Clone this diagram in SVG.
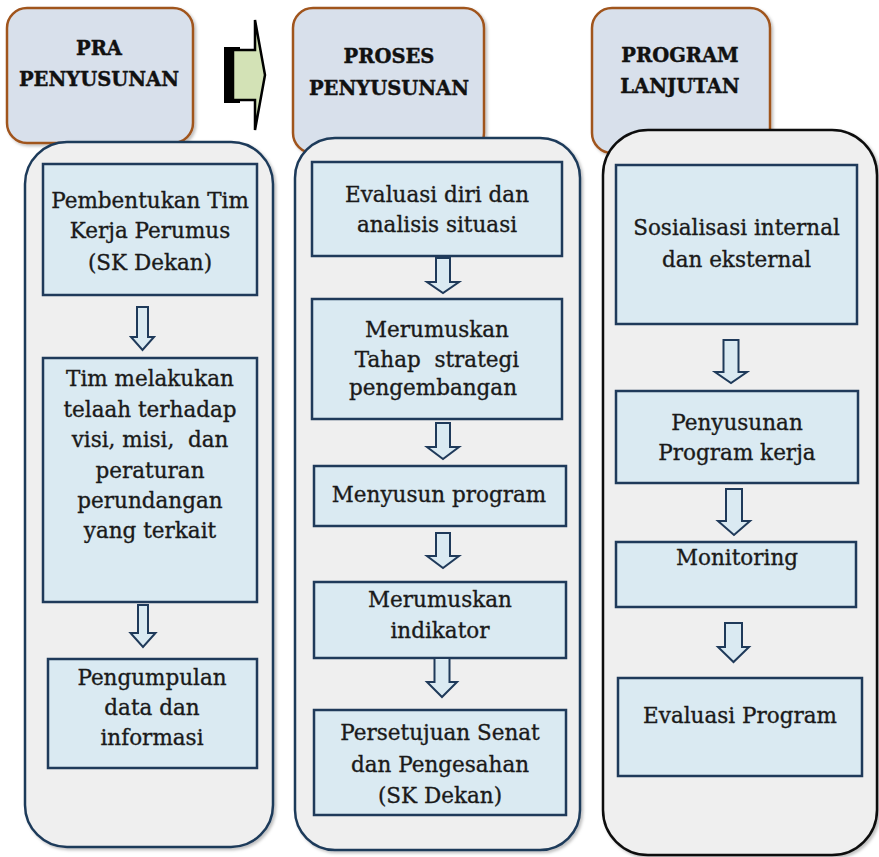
<svg xmlns="http://www.w3.org/2000/svg" width="879" height="857" viewBox="0 0 879 857">
  <defs>
    <filter id="sh" x="-5%" y="-5%" width="115%" height="115%">
      <feDropShadow dx="2" dy="2" stdDeviation="1.5" flood-color="#000" flood-opacity="0.25"/>
    </filter>
  </defs>
  <style>
    .hdr { fill: #d8e0eb; stroke: #a0541f; stroke-width: 2.5; }
    .hdrtxt { font-family: "DejaVu Serif", "Liberation Serif", serif; font-weight: bold; font-size: 19.5px; fill: #111; stroke: #111; stroke-width: 0.4; text-anchor: middle; }
    .panel { fill: #efefef; stroke: #1f3a5a; stroke-width: 2.5; }
    .panel.dark { stroke: #111; }
    .box { fill: #daeaf2; stroke: #1f3a5a; stroke-width: 2.5; }
    .txt { font-family: "DejaVu Serif", "Liberation Serif", serif; font-size: 21.5px; fill: #1a1a1a; stroke: #1a1a1a; stroke-width: 0.35; text-anchor: middle; white-space: pre; }
    .arr { fill: #daeaf2; stroke: #1f3a5a; stroke-width: 2; stroke-linejoin: miter; }
  </style>
  <rect width="879" height="857" fill="#ffffff"/>

  <!-- Headers -->
  <g id="header-pra">
    <rect class="hdr" x="7" y="8" width="186" height="135" rx="20" filter="url(#sh)"/>
    <text class="hdrtxt" x="99" y="55">PRA</text>
    <text class="hdrtxt" x="99" y="86">PENYUSUNAN</text>
  </g>
  <g id="header-proses">
    <rect class="hdr" x="293" y="8" width="191" height="145" rx="20" filter="url(#sh)"/>
    <text class="hdrtxt" x="389" y="63">PROSES</text>
    <text class="hdrtxt" x="389" y="95">PENYUSUNAN</text>
  </g>
  <g id="header-program">
    <rect class="hdr" x="592" y="8" width="178" height="145" rx="20" filter="url(#sh)"/>
    <text class="hdrtxt" x="680" y="62">PROGRAM</text>
    <text class="hdrtxt" x="680" y="93">LANJUTAN</text>
  </g>

  <!-- Panels -->
  <g id="panel-pra">
    <rect class="panel" x="25" y="142" width="248" height="705" rx="42" filter="url(#sh)"/>
  </g>
  <g id="panel-proses">
    <rect class="panel" x="295" y="138" width="285" height="712" rx="40" filter="url(#sh)"/>
  </g>
  <g id="panel-program">
    <rect class="panel dark" x="603" y="130" width="274" height="725" rx="45" filter="url(#sh)"/>
  </g>

  <!-- Left column nodes -->
  <g id="pembentukan-tim">
    <rect class="box" x="43" y="164" width="214" height="131"/>
    <text class="txt" x="150" y="208">Pembentukan Tim</text>
    <text class="txt" x="150" y="238">Kerja Perumus</text>
    <text class="txt" x="150" y="270">(SK Dekan)</text>
  </g>
  <g id="telaah">
    <rect class="box" x="43" y="358" width="214" height="244"/>
    <text class="txt" x="150" y="386">Tim melakukan</text>
    <text class="txt" x="150" y="417">telaah terhadap</text>
    <text class="txt" x="150" y="447">visi, misi,  dan</text>
    <text class="txt" x="150" y="478">peraturan</text>
    <text class="txt" x="150" y="508">perundangan</text>
    <text class="txt" x="150" y="538">yang terkait</text>
  </g>
  <g id="pengumpulan">
    <rect class="box" x="48" y="659" width="209" height="109"/>
    <text class="txt" x="152" y="685">Pengumpulan</text>
    <text class="txt" x="152" y="715">data dan</text>
    <text class="txt" x="152" y="745">informasi</text>
  </g>

  <!-- Middle column nodes -->
  <g id="evaluasi-diri">
    <rect class="box" x="312" y="162" width="250" height="94"/>
    <text class="txt" x="437" y="202">Evaluasi diri dan</text>
    <text class="txt" x="437" y="232">analisis situasi</text>
  </g>
  <g id="merumuskan-strategi">
    <rect class="box" x="312" y="299" width="250" height="120"/>
    <text class="txt" x="437" y="337">Merumuskan</text>
    <text class="txt" x="437" y="367">Tahap  strategi</text>
    <text class="txt" x="433" y="395">pengembangan</text>
  </g>
  <g id="menyusun-program">
    <rect class="box" x="314" y="466" width="252" height="60"/>
    <text class="txt" x="439" y="502">Menyusun program</text>
  </g>
  <g id="merumuskan-indikator">
    <rect class="box" x="314" y="582" width="252" height="76"/>
    <text class="txt" x="440" y="607">Merumuskan</text>
    <text class="txt" x="440" y="638">indikator</text>
  </g>
  <g id="persetujuan">
    <rect class="box" x="314" y="710" width="252" height="105"/>
    <text class="txt" x="440" y="740">Persetujuan Senat</text>
    <text class="txt" x="440" y="772">dan Pengesahan</text>
    <text class="txt" x="440" y="803">(SK Dekan)</text>
  </g>

  <!-- Right column nodes -->
  <g id="sosialisasi">
    <rect class="box" x="616" y="165" width="241" height="159"/>
    <text class="txt" x="736.5" y="235">Sosialisasi internal</text>
    <text class="txt" x="736.5" y="267">dan eksternal</text>
  </g>
  <g id="penyusunan-program">
    <rect class="box" x="616" y="391" width="242" height="92"/>
    <text class="txt" x="737" y="430">Penyusunan</text>
    <text class="txt" x="737" y="460">Program kerja</text>
  </g>
  <g id="monitoring">
    <rect class="box" x="616" y="542" width="240" height="65"/>
    <text class="txt" x="737" y="565">Monitoring</text>
  </g>
  <g id="evaluasi-program">
    <rect class="box" x="618" y="678" width="244" height="98"/>
    <text class="txt" x="740" y="723">Evaluasi Program</text>
  </g>

  <!-- Connectors -->
  <g id="connectors">
    <g id="big-arrow">
      <rect x="224" y="47" width="16" height="56" fill="#000"/>
      <path d="M233,50 H255 V20 L265,75 L255,130 V100 H233 Z" fill="#d3e2b6" stroke="#000" stroke-width="2.5" stroke-linejoin="miter"/>
    </g>
    <path class="arr" d="M137,307 H148 V337 H154 L142.5,350 L131,337 H137 Z"/>
    <path class="arr" d="M138,605 H148 V633 H155.5 L143,647 L130.5,633 H138 Z"/>
    <path class="arr" d="M436,258 H450 V282 H459 L443,293 L427,282 H436 Z"/>
    <path class="arr" d="M436,423 H450 V447 H459 L443,459 L427,447 H436 Z"/>
    <path class="arr" d="M436,533 H450 V556 H459 L443,568 L427,556 H436 Z"/>
    <path class="arr" d="M434.5,658 H449.5 V682 H457 L442,697 L427,682 H434.5 Z"/>
    <path class="arr" d="M723.5,340 H738.5 V372 H747 L731,383 L715,372 H723.5 Z"/>
    <path class="arr" d="M726,489 H742 V521 H750 L734,535 L718,521 H726 Z"/>
    <path class="arr" d="M725,623 H742 V647 H749 L733.5,662 L718,647 H725 Z"/>
  </g>
</svg>
